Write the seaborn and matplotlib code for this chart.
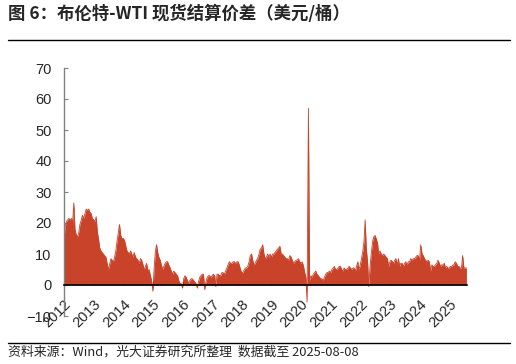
import numpy as np
import pandas as pd
import seaborn as sns
import matplotlib
matplotlib.use("Agg")
from matplotlib import pyplot as plt
from matplotlib.lines import Line2D

# Brent-WTI spot spread, USD/bbl
v2012 = [14.5, 19, 20.5, 21, 21.5, 21, 21.5, 20, 26.5, 18, 16, 15.5,
         17, 19.5, 21, 22.5, 21.5, 23, 24.5, 24, 24.5, 23.5, 23, 21.5]
v2013 = [21, 20.5, 22, 17, 15, 12, 11, 10.5, 10, 9.5, 9, 7,
         5, 6.5, 8.5, 8, 7.5, 9, 11, 14, 17, 19.5, 16, 15]
v2014 = [15, 14.5, 12.5, 11, 10.5, 10, 11, 10, 9, 10.5, 9, 8.5,
         8, 7, 8.5, 8, 6.5, 5, 6, 7, 4.5, 5, 3, 1.5]
v2015 = [-2, 5, 11, 13, 10.5, 9, 8, 6.5, 5, 6, 7, 7.5,
         7.5, 6.5, 5.5, 4.5, 3.5, 4.5, 4, 3.5, 3, 1.5, 0.5, 0.5]
v2016 = [-1, 2, 3, 2.5, 1.5, 0.5, 1.5, 2, 2, 1.5, 1, 0.5,
         -1, 1, 2.5, 3, 3.5, 3.5, -1.5, 1, 2.5, 3, 3, 2.5]
v2017 = [3, 3.5, 3, -0.5, 3.5, 3.5, 3, 3, 4, 4, 3.5, 4.5,
         5.5, 6.5, 7.5, 7, 7, 7.5, 7.5, 7, 7.5, 7.5, 6.5, 5]
v2018 = [4, 4, 5, 5.5, 5.5, 6, 7.5, 9.5, 10, 8, 6.5, 7,
         8, 8.5, 10, 11.5, 12, 13, 10, 8.5, 9, 10, 9, 10]
v2019 = [9, 10, 10, 10.5, 11, 11.5, 12, 12.5, 10, 10, 9.5, 9,
         8.5, 8.5, 8, 9.5, 9, 8, 7, 7.5, 8, 8, 8.5, 7.5]
v2020 = [7, 7.5, 6, 4, 2.5, -5.5, 57, 1.5, 3, 2.5, 3.5, 4,
         4.5, 3.5, 3, 2.5, 2, 2, 1.5, 2.5, 3.5, 4, 4, 4.5]
v2021 = [4, 5, 5.5, 6, 5, 5, 5.5, 6, 6, 5, 4.5, 5.5,
         5, 5, 5.5, 6, 5.5, 5, 5.5, 5.5, 4.5, 6, 7.5, 5]
v2022 = [6.5, 8.5, 11, 14, 21, 12, 7, -0.5, 6, 10, 14, 15.5,
         16, 15, 13.5, 10, 11, 10, 9.5, 10, 9.5, 9, 8.5, 6]
v2023 = [7.5, 8, 7.5, 7, 8, 8.5, 6.5, 8.5, 6, 7, 7, 6,
         7, 7.5, 6.5, 7.5, 7.5, 8.5, 8, 8.5, 8.5, 9, 9.5, 9.5]
v2024 = [8, 13, 10, 9.5, 8.5, 8, 7.5, 8, 7.5, 4.5, 6.5, 6,
         6, 6.5, 7, 8, 7, 6, 6.5, 6.5, 7, 5.5, 6, 5.5]
v2025 = [5.5, 6, 6, 6.5, 6.5, 7.5, 7, 6, 6, 5.5, 5.5, 9.5, 5.5, 5.5, 5.5]

spread = (v2012 + v2013 + v2014 + v2015 + v2016 + v2017 + v2018 + v2019
          + v2020 + v2021 + v2022 + v2023 + v2024 + v2025)
dates = pd.date_range("2012-01-01", periods=len(spread), freq="SMS")
years = list(range(2012, 2026))

title = "图 6：布伦特-WTI 现货结算价差（美元/桶）"
source = "资料来源：Wind，光大证券研究所整理  数据截至 2025-08-08"

df = pd.DataFrame({"date": dates, "spread": spread})

sns.set_style("white")
plt.rcParams["font.family"] = ["Liberation Sans", "Noto Sans CJK SC"]

red = "#C8432A"
fig = plt.figure(figsize=(5.16, 3.64), dpi=100)
ax = fig.add_axes([64 / 516, 1 - 316 / 364, 403 / 516, 248 / 364])

ax.fill_between(df["date"], df["spread"], 0, color=red, linewidth=0)
sns.lineplot(data=df, x="date", y="spread", ax=ax, color=red, linewidth=0.6)

ax.set_xlim(pd.Timestamp("2012-01-01"), pd.Timestamp("2025-08-08"))
ax.set_ylim(-10, 70)
ax.set_yticks(range(-10, 71, 10))
ax.set_xticks([pd.Timestamp(f"{y}-01-01") for y in years])
ax.set_xticklabels([str(y) for y in years])
ax.set_xlabel("")
ax.set_ylabel("")

for s in ["top", "right"]:
    ax.spines[s].set_visible(False)
ax.spines["bottom"].set_position(("data", 0))
ax.spines["bottom"].set_color("black")
ax.spines["bottom"].set_linewidth(1.2)
ax.spines["left"].set_color("#808080")
ax.spines["left"].set_linewidth(1.0)
ax.tick_params(axis="y", direction="in", length=3, color="#808080",
               labelsize=10.5, pad=9, left=True)
ax.tick_params(axis="x", direction="in", length=3, color="black",
               labelsize=10.5, pad=9, bottom=True)
plt.setp(ax.get_xticklabels(), rotation=45, ha="right",
         rotation_mode="anchor")

fig.text(8 / 516, 1 - 14 / 364, title, fontsize=12.5, fontweight="bold",
         family=["Noto Sans CJK SC"], va="center", ha="left")
fig.add_artist(Line2D([8 / 516, 510 / 516], [1 - 40 / 364] * 2,
                      color="black", linewidth=1))
fig.add_artist(Line2D([8 / 516, 510 / 516], [1 - 342.5 / 364] * 2,
                      color="black", linewidth=1))
fig.text(8 / 516, 1 - 352.5 / 364, source, fontsize=9.3,
         family=["Noto Sans CJK SC"], va="center", ha="left")

fig.savefig("out.png", dpi=100)
